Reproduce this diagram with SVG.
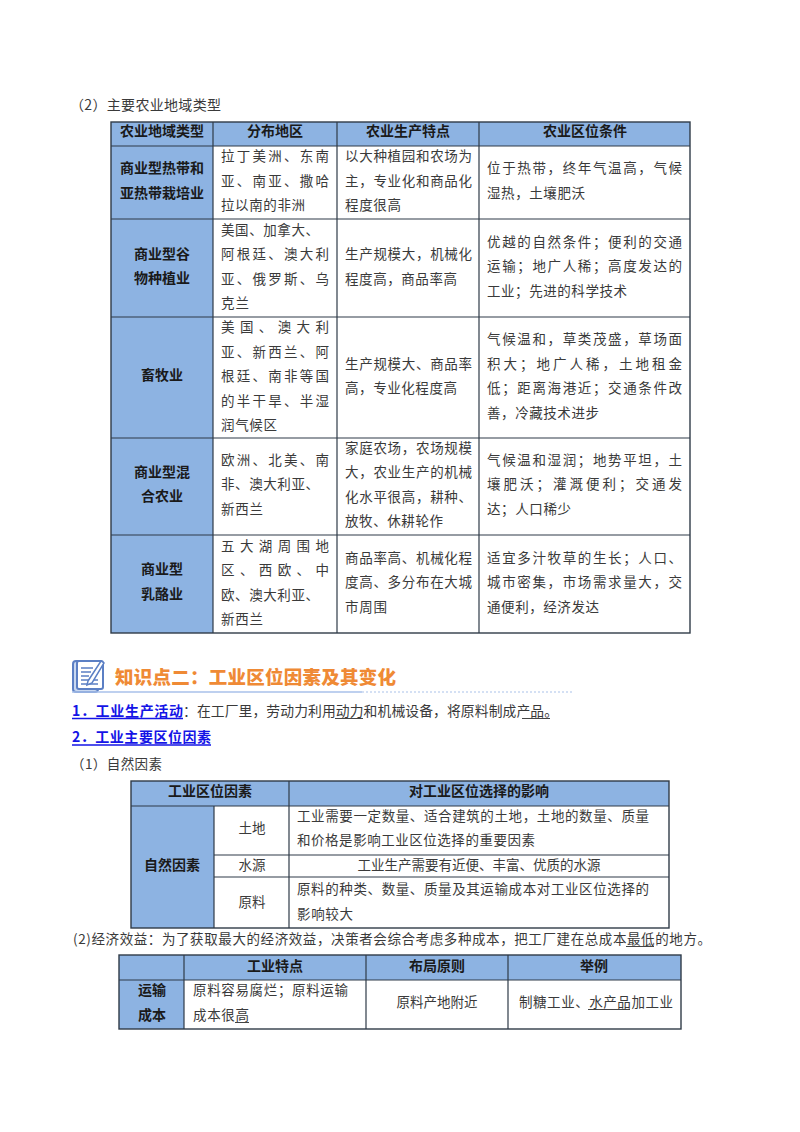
<svg xmlns="http://www.w3.org/2000/svg" width="800" height="1132" viewBox="0 0 800 1132">
<style>
text{font-family:"Noto Sans CJK SC","Noto Sans",sans-serif;font-size:13.5px;fill:#3a3a3a}
.b{font-weight:700;fill:#1a1a1a;font-size:14px}
.c{text-anchor:middle}
.h{fill:#8db3e2}
.o{fill:none;stroke:#2f3b48;stroke-width:1.4}
.l{stroke:#2f3b48;stroke-width:1.2}
.u{stroke:#444;stroke-width:1}
.lk{font-weight:700;fill:#1414e6;font-size:14px}
.bl{stroke:#1414e6;stroke-width:1.3}
</style>
<rect width="800" height="1132" fill="#fff"/>
<text x="70" y="110" textLength="151" style="font-size:14px">（2）主要农业地域类型</text>

<g id="table-1">
<rect class="h" x="111" y="122" width="579" height="24"/>
<rect class="h" x="111" y="146" width="102" height="487"/>
<rect class="o" x="111" y="122" width="579" height="511"/>
<path class="l" d="M213 122V633M337 122V633M479 122V633M111 146H690M111 219H690M111 317H690M111 438H690M111 535H690"/>
<text class="b c" x="162" y="136">农业地域类型</text><text class="b c" x="275" y="136">分布地区</text><text class="b c" x="408" y="136">农业生产特点</text><text class="b c" x="585" y="136">农业区位条件</text>
<text class="b c" x="162" y="173">商业型热带和</text><text class="b c" x="162" y="198">亚热带栽培业</text>
<text class="b c" x="162" y="259">商业型谷</text><text class="b c" x="162" y="283">物种植业</text>
<text class="b c" x="162" y="380">畜牧业</text>
<text class="b c" x="162" y="477">商业型混</text><text class="b c" x="162" y="501">合农业</text>
<text class="b c" x="162" y="574">商业型</text><text class="b c" x="162" y="599">乳酪业</text>

<text x="221" y="161" textLength="108">拉丁美洲、东南</text><text x="221" y="186" textLength="108">亚、南亚、撒哈</text><text x="221" y="210" textLength="84">拉以南的非洲</text>
<text x="221" y="235" textLength="98">美国、加拿大、</text><text x="221" y="259" textLength="108">阿根廷、澳大利</text><text x="221" y="284" textLength="108">亚、俄罗斯、乌</text><text x="221" y="308" textLength="28">克兰</text>
<text x="221" y="332" textLength="108">美国、澳大利</text><text x="221" y="357" textLength="108">亚、新西兰、阿</text><text x="221" y="381" textLength="108">根廷、南非等国</text><text x="221" y="406" textLength="108">的半干旱、半湿</text><text x="221" y="430" textLength="56">润气候区</text>
<text x="221" y="465" textLength="108">欧洲、北美、南</text><text x="221" y="489" textLength="98">非、澳大利亚、</text><text x="221" y="514" textLength="42">新西兰</text>
<text x="221" y="551" textLength="108">五大湖周围地</text><text x="221" y="575" textLength="108">区、西欧、中</text><text x="221" y="600" textLength="98">欧、澳大利亚、</text><text x="221" y="624" textLength="42">新西兰</text>

<text x="345" y="161" textLength="127">以大种植园和农场为</text><text x="345" y="186" textLength="127">主，专业化和商品化</text><text x="345" y="210" textLength="56">程度很高</text>
<text x="345" y="259" textLength="127">生产规模大，机械化</text><text x="345" y="284" textLength="112">程度高，商品率高</text>
<text x="345" y="369" textLength="127">生产规模大、商品率</text><text x="345" y="393" textLength="112">高，专业化程度高</text>
<text x="345" y="453" textLength="127">家庭农场，农场规模</text><text x="345" y="477" textLength="127">大，农业生产的机械</text><text x="345" y="502" textLength="127">化水平很高，耕种、</text><text x="345" y="526" textLength="98">放牧、休耕轮作</text>
<text x="345" y="563" textLength="127">商品率高、机械化程</text><text x="345" y="587" textLength="127">度高、多分布在大城</text><text x="345" y="612" textLength="42">市周围</text>

<text x="487" y="173" textLength="195">位于热带，终年气温高，气候</text><text x="487" y="198" textLength="98">湿热，土壤肥沃</text>
<text x="487" y="247" textLength="195">优越的自然条件；便利的交通</text><text x="487" y="271" textLength="195">运输；地广人稀；高度发达的</text><text x="487" y="296" textLength="140">工业；先进的科学技术</text>
<text x="487" y="344" textLength="195">气候温和，草类茂盛，草场面</text><text x="487" y="369" textLength="195">积大；地广人稀，土地租金</text><text x="487" y="393" textLength="195">低；距离海港近；交通条件改</text><text x="487" y="418" textLength="112">善，冷藏技术进步</text>
<text x="487" y="465" textLength="195">气候温和湿润；地势平坦，土</text><text x="487" y="489" textLength="195">壤肥沃；灌溉便利；交通发</text><text x="487" y="514" textLength="84">达；人口稀少</text>
<text x="487" y="563" textLength="195">适宜多汁牧草的生长；人口、</text><text x="487" y="587" textLength="195">城市密集，市场需求量大，交</text><text x="487" y="612" textLength="112">通便利，经济发达</text>
</g>

<g id="heading">
<rect x="73" y="661" width="25" height="31" rx="3" fill="#c9d8f0" stroke="#5b7fc4" stroke-width="2"/>
<rect x="77" y="661" width="26" height="28" rx="2" fill="#fff" stroke="#5b7fc4" stroke-width="2"/>
<path d="M81 668H93M81 672H91M81 676H89M81 680H98M81 684H98" stroke="#5b7fc4" stroke-width="1.500"/>
<path d="M88 681L101 661L104 663L92 683L87 685Z" fill="#fff" stroke="#5b7fc4" stroke-width="1.500"/>
<path d="M72 692H362" stroke="#a9c1ea" stroke-width="1.5"/>
<path d="M362 692H572" stroke="#a9c1ea" stroke-width="1.2" stroke-dasharray="2 2"/>
<text x="115" y="684" textLength="281" style="font-size:18.500px;font-weight:900;fill:#ef8a35">知识点二：工业区位因素及其变化</text>
</g>

<g id="text-block">
<text class="lk" x="72" y="716" textLength="111">1．工业生产活动</text><path class="bl" d="M72 718.500H183"/>
<text x="183" y="716" textLength="375" style="font-size:13.800px">：在工厂里，劳动力利用动力和机械设备，将原料制成产品。</text>
<path class="u" d="M335 718.500H363M522 718.500H550"/>
<text class="lk" x="72" y="742" textLength="139">2．工业主要区位因素</text><path class="bl" d="M72 745H211"/>
<text x="71" y="769" textLength="91" style="font-size:13.500px">（1）自然因素</text>
</g>

<g id="table-2">
<rect class="h" x="131" y="781" width="538" height="25"/>
<rect class="h" x="131" y="806" width="83" height="122"/>
<rect class="o" x="131" y="781" width="538" height="147"/>
<path class="l" d="M214 806V928M289 781V928M131 806H669M214 855H669M214 877H669"/>
<text class="b c" x="210" y="796">工业区位因素</text><text class="b c" x="479" y="796">对工业区位选择的影响</text>
<text class="b c" x="172" y="870">自然因素</text>
<text class="c" x="252" y="833">土地</text><text class="c" x="252" y="870">水源</text><text class="c" x="252" y="907">原料</text>
<text x="297" y="821" textLength="352">工业需要一定数量、适合建筑的土地，土地的数量、质量</text><text x="297" y="845" textLength="238">和价格是影响工业区位选择的重要因素</text>
<text class="c" x="479" y="870">工业生产需要有近便、丰富、优质的水源</text>
<text x="297" y="894" textLength="352">原料的种类、数量、质量及其运输成本对工业区位选择的</text><text x="297" y="919" textLength="56">影响较大</text>
</g>

<text x="73" y="944" textLength="638" style="font-size:13.500px">(2)经济效益：为了获取最大的经济效益，决策者会综合考虑多种成本，把工厂建在总成本最低的地方。</text>
<path class="u" d="M626 946.500H654"/>

<g id="table-3">
<rect class="h" x="119" y="955" width="562" height="25"/>
<rect class="h" x="119" y="980" width="65" height="49"/>
<rect class="o" x="119" y="955" width="562" height="74"/>
<path class="l" d="M184 955V1029M366 955V1029M508 955V1029M119 980H681"/>
<text class="b c" x="275" y="971">工业特点</text><text class="b c" x="437" y="971">布局原则</text><text class="b c" x="594" y="971">举例</text>
<text class="b c" x="152" y="995">运输</text><text class="b c" x="152" y="1020">成本</text>
<text x="193" y="995" textLength="155">原料容易腐烂；原料运输</text><text x="193" y="1020" textLength="56">成本很高</text>
<text class="c" x="437" y="1007">原料产地附近</text>
<text x="519" y="1007" textLength="154">制糖工业、水产品加工业</text>
<path class="u" d="M235 1022.500H249M588 1009.500H630"/>
</g>
</svg>
